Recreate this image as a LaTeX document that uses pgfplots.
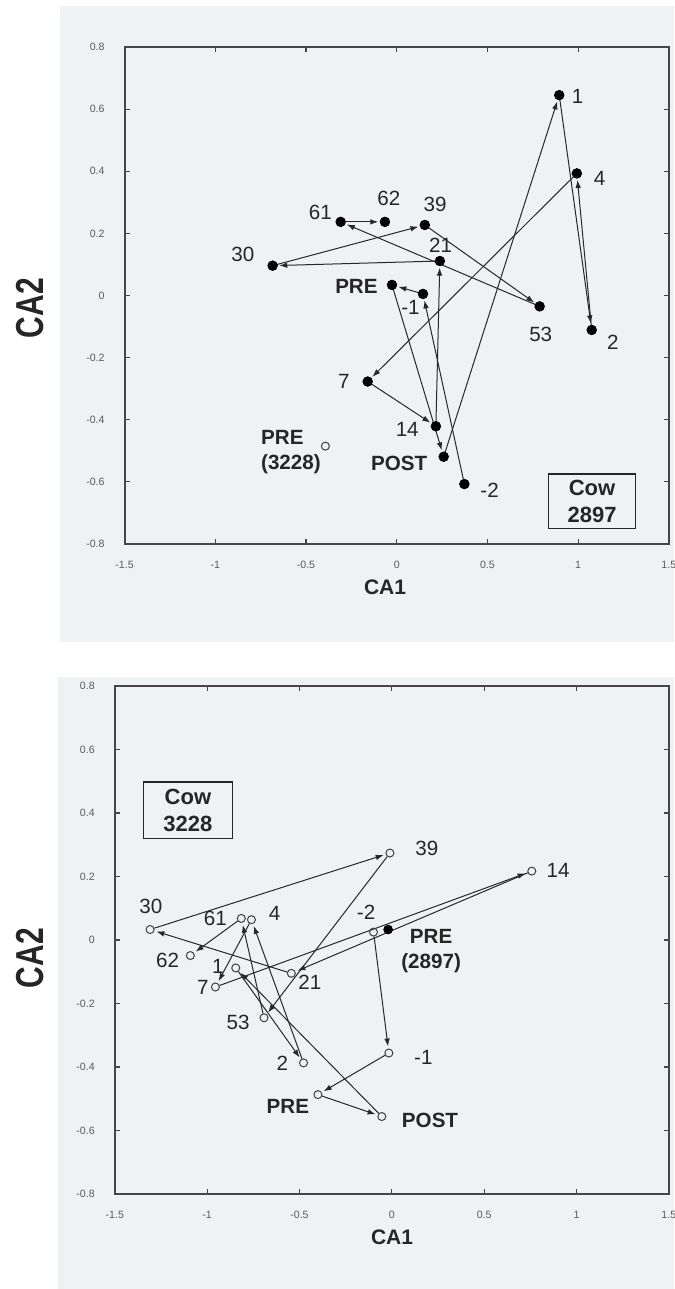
\documentclass[border=0pt]{standalone}
\usepackage{pgfplots}
\pgfplotsset{compat=1.18}
\usepackage{pgfplotstable}
\usepackage{fontspec}
\setmainfont{Liberation Sans}
\usetikzlibrary{arrows.meta}
\definecolor{panelbg}{RGB}{239,242,242}
\definecolor{axgray}{RGB}{70,70,70}
\definecolor{arrgray}{RGB}{40,40,40}
\definecolor{tickgray}{RGB}{90,90,90}

% Cow 2897: time course (-2,-1,PRE,POST,1,2,4,7,14,21,30,39,53,61,62)
\pgfplotstableread{
x y
0.373 -0.607
0.145 0.005
-0.026 0.034
0.259 -0.519
0.896 0.645
1.075 -0.111
0.993 0.393
-0.160 -0.277
0.216 -0.421
0.238 0.111
-0.684 0.096
0.155 0.227
0.788 -0.035
-0.309 0.237
-0.065 0.237
}\toppts
\pgfplotstableread{
x y xn yn
0.373 -0.607 0.145 0.005
0.145 0.005 -0.026 0.034
-0.026 0.034 0.259 -0.519
0.259 -0.519 0.896 0.645
0.896 0.645 1.075 -0.111
1.075 -0.111 0.993 0.393
0.993 0.393 -0.160 -0.277
-0.160 -0.277 0.216 -0.421
0.216 -0.421 0.238 0.111
0.238 0.111 -0.684 0.096
-0.684 0.096 0.155 0.227
0.155 0.227 0.788 -0.035
0.788 -0.035 -0.309 0.237
-0.309 0.237 -0.065 0.237
}\toppath

% Cow 3228
\pgfplotstableread{
x y
-0.099 0.025
-0.016 -0.356
-0.400 -0.487
-0.054 -0.556
-0.845 -0.088
-0.478 -0.387
-0.760 0.064
-0.955 -0.148
0.758 0.217
-0.544 -0.105
-1.309 0.033
-0.010 0.274
-0.692 -0.245
-0.815 0.068
-1.091 -0.049
}\botpts
\pgfplotstableread{
x y xn yn
-0.099 0.025 -0.016 -0.356
-0.016 -0.356 -0.400 -0.487
-0.400 -0.487 -0.054 -0.556
-0.054 -0.556 -0.845 -0.088
-0.845 -0.088 -0.478 -0.387
-0.478 -0.387 -0.760 0.064
-0.760 0.064 -0.955 -0.148
-0.955 -0.148 0.758 0.217
0.758 0.217 -0.544 -0.105
-0.544 -0.105 -1.309 0.033
-1.309 0.033 -0.010 0.274
-0.010 0.274 -0.692 -0.245
-0.692 -0.245 -0.815 0.068
-0.815 0.068 -1.091 -0.049
}\botpath

\pgfplotsset{
  ca/.style={
    scale only axis,
    xmin=-1.5, xmax=1.5, ymin=-0.8, ymax=0.8,
    xtick={-1.5,-1,-0.5,0,0.5,1,1.5},
    ytick={-0.8,-0.6,-0.4,-0.2,0,0.2,0.4,0.6,0.8},
    xticklabels={-1.5,-1,-0.5,0,0.5,1,1.5},
    yticklabels={-0.8,-0.6,-0.4,-0.2,0,0.2,0.4,0.6,0.8},
    tick align=inside, major tick length=2.5pt,
    axis line style={axgray, line width=0.9pt},
    every tick/.style={axgray, line width=0.6pt},
    ticklabel style={font=\fontsize{5.3}{6}\selectfont, text=tickgray},
    xticklabel style={yshift=-5pt},
    yticklabel style={xshift=-6.5pt},
    axis background/.style={fill=panelbg},
    clip=false,
  },
  arr/.style={arrgray, line width=0.5pt,
    quiver={u=\thisrow{xn}-\thisrow{x}, v=\thisrow{yn}-\thisrow{y},
      every arrow/.append style={-{Latex[length=4pt,width=2.8pt]}, shorten >=3.3pt, shorten <=2.2pt}}},
}
\tikzset{
  lab/.style={font=\fontsize{10.3}{12}\selectfont, text=black!85},
  blab/.style={font=\fontsize{10.3}{12.5}\selectfont\bfseries, text=black!85},
  cowbox/.style={draw=black!85, line width=0.9pt, align=center, inner sep=0pt,
    font=\fontsize{11}{13.5}\selectfont\bfseries, text=black!85},
}

\begin{document}
\begin{tikzpicture}
\useasboundingbox (0,0) rectangle (337pt,-644.5pt);
\fill[panelbg] (30pt,-3pt) rectangle (337pt,-321pt);
\fill[panelbg] (29pt,-338.5pt) rectangle (337pt,-644.5pt);

% ---------- top panel ----------
\begin{axis}[ca, at={(62.3pt,-272pt)}, anchor=south west, width=272.1pt, height=248.5pt]
\addplot[arr] table {\toppath};
\addplot[only marks, mark=*, mark size=2.4pt, mark options={fill=black, draw=black}] table {\toppts};
\addplot[only marks, mark=o, mark size=2pt, mark options={fill=white, draw=black!75, line width=0.5pt}] coordinates {(-0.393,-0.485)};
\node[lab] at (axis cs:0.997,0.642) {1};
\node[lab] at (axis cs:1.118,0.378) {4};
\node[lab] at (axis cs:1.192,-0.151) {2};
\node[lab] at (axis cs:0.794,-0.126) {53};
\node[lab] at (axis cs:-0.043,0.311) {62};
\node[lab] at (axis cs:0.212,0.294) {39};
\node[lab] at (axis cs:-0.421,0.268) {61};
\node[lab] at (axis cs:0.242,0.160) {21};
\node[lab] at (axis cs:-0.848,0.132) {30};
\node[blab] at (axis cs:-0.222,0.028) {PRE};
\node[lab] at (axis cs:0.076,-0.038) {-1};
\node[lab] at (axis cs:-0.291,-0.277) {7};
\node[lab] at (axis cs:0.058,-0.431) {14};
\node[blab] at (axis cs:0.013,-0.539) {POST};
\node[lab] at (axis cs:0.512,-0.626) {-2};
\node[blab, align=left] at (axis cs:-0.583,-0.504) {PRE\\(3228)};
\node[cowbox, minimum width=43.5pt, minimum height=27.4pt] at (axis cs:1.077,-0.662) {Cow\\2897};
\end{axis}
\node[font=\fontsize{10.5}{12}\selectfont\bfseries, text=black!85] at (192.5pt,-293.5pt) {CA1};
\node[rotate=90, font=\fontsize{15}{16}\selectfont\bfseries, text=black!85] at (15pt,-154pt) {\scalebox{1}[1.3]{CA2}};

% ---------- bottom panel ----------
\begin{axis}[ca, at={(57.4pt,-597pt)}, anchor=south west, width=277pt, height=254pt]
\addplot[arr] table {\botpath};
\addplot[only marks, mark=o, mark size=2pt, mark options={fill=white, draw=black!75, line width=0.5pt}] table {\botpts};
\addplot[only marks, mark=*, mark size=2.2pt, mark options={fill=black, draw=black}] coordinates {(-0.020,0.033)};
\node[lab] at (axis cs:0.190,0.288) {39};
\node[lab] at (axis cs:0.900,0.219) {14};
\node[lab] at (axis cs:-1.305,0.106) {30};
\node[lab] at (axis cs:-0.955,0.068) {61};
\node[lab] at (axis cs:-0.635,0.084) {4};
\node[lab] at (axis cs:-0.139,0.088) {-2};
\node[blab, align=center] at (axis cs:0.213,-0.036) {PRE\\(2897)};
\node[lab] at (axis cs:-1.214,-0.064) {62};
\node[lab] at (axis cs:-0.942,-0.083) {1};
\node[lab] at (axis cs:-1.023,-0.149) {7};
\node[lab] at (axis cs:-0.444,-0.134) {21};
\node[lab] at (axis cs:-0.832,-0.260) {53};
\node[lab] at (axis cs:-0.593,-0.387) {2};
\node[lab] at (axis cs:0.171,-0.371) {-1};
\node[blab] at (axis cs:-0.563,-0.523) {PRE};
\node[blab] at (axis cs:0.207,-0.569) {POST};
\node[cowbox, minimum width=44.5pt, minimum height=28.3pt] at (axis cs:-1.104,0.409) {Cow\\3228};
\end{axis}
\node[font=\fontsize{10.5}{12}\selectfont\bfseries, text=black!85] at (196pt,-618.5pt) {CA1};
\node[rotate=90, font=\fontsize{15}{16}\selectfont\bfseries, text=black!85] at (15pt,-479pt) {\scalebox{1}[1.3]{CA2}};
\end{tikzpicture}
\end{document}
